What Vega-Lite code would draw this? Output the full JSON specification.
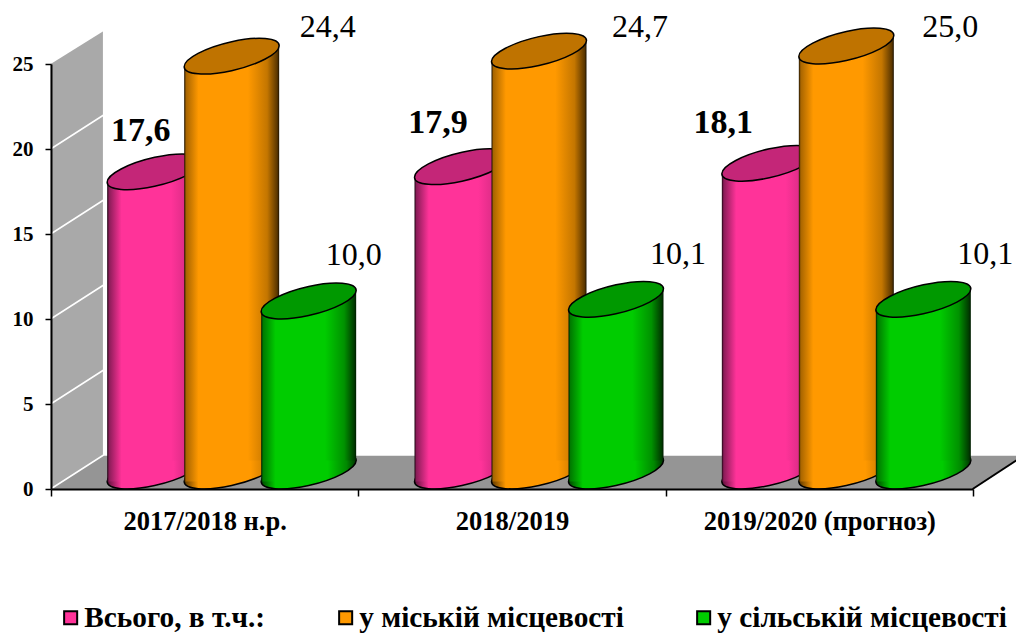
{"$schema":"https://vega.github.io/schema/vega-lite/v6.json","width":922,"height":425,"autosize":{"type":"none"},"padding":{"left":51,"top":64,"right":43,"bottom":145},"background":"white","config":{"view":{"stroke":null}},
"data":{"values":[
{"category":"2017/2018 н.р.","series":"Всього, в т.ч.:","value":17.6,"label":"17,6"},
{"category":"2017/2018 н.р.","series":"у міській місцевості","value":24.4,"label":"24,4"},
{"category":"2017/2018 н.р.","series":"у сільській місцевості","value":10.0,"label":"10,0"},
{"category":"2018/2019","series":"Всього, в т.ч.:","value":17.9,"label":"17,9"},
{"category":"2018/2019","series":"у міській місцевості","value":24.7,"label":"24,7"},
{"category":"2018/2019","series":"у сільській місцевості","value":10.1,"label":"10,1"},
{"category":"2019/2020 (прогноз)","series":"Всього, в т.ч.:","value":18.1,"label":"18,1"},
{"category":"2019/2020 (прогноз)","series":"у міській місцевості","value":25.0,"label":"25,0"},
{"category":"2019/2020 (прогноз)","series":"у сільській місцевості","value":10.1,"label":"10,1"}]},
"encoding":{
"x":{"field":"category","type":"nominal","sort":null,"scale":{"domain":["2017/2018 н.р.","2018/2019","2019/2020 (прогноз)"],"paddingInner":0,"paddingOuter":0},"axis":{"title":null,"labelAngle":0,"labelFont":"Liberation Serif","labelFontWeight":"bold","labelFontSize":26.5,"labelLimit":400,"labelColor":"black","labelPadding":12,"tickBand":"extent","tickColor":"black","tickWidth":1.5,"tickSize":7,"domainColor":"black","domainWidth":2,"grid":false,"zindex":1}},
"y":{"field":"value","type":"quantitative","scale":{"domain":[0,25],"nice":false},"axis":{"title":null,"values":[0,5,10,15,20,25],"labelFont":"Liberation Serif","labelFontWeight":"bold","labelFontSize":21,"labelColor":"black","labelPadding":12,"tickColor":"black","tickWidth":1.5,"tickSize":6,"domainColor":"black","domainWidth":2,"grid":false,"zindex":1}}},
"layer":[
{"transform":[{"filter":"datum.category==='2017/2018 н.р.' && datum.series==='Всього, в т.ч.:'"}],"mark":{"type":"point","filled":true,"opacity":1,"fill":"#959595","stroke":null,"size":1000000,"shape":"M-.308,0 L-.202,-.068 L1.64,-.068 L1.536,0 Z"},"encoding":{"y":{"datum":0}}},
{"transform":[{"filter":"datum.category==='2017/2018 н.р.' && datum.series==='Всього, в т.ч.:'"}],"mark":{"type":"point","filled":true,"opacity":1,"fill":"#a9a9a9","stroke":null,"size":1000000,"shape":"M-.308,0 L-.202,-.068 L-.202,-.916 L-.308,-.85 Z"},"encoding":{"y":{"datum":0}}},
{"transform":[{"filter":"datum.category==='2017/2018 н.р.' && datum.series==='Всього, в т.ч.:'"}],"mark":{"type":"point","filled":false,"opacity":1,"stroke":"white","strokeWidth":1.5,"size":1000000,"shape":"M-.308,0 L-.202,-.068 L-.202,-.916 M-.308,-.17 L-.202,-.238 M-.308,-.34 L-.202,-.408 M-.308,-.51 L-.202,-.578 M-.308,-.68 L-.202,-.748 M-.202,-.068 L1.64,-.068"},"encoding":{"y":{"datum":0}}},
{"transform":[{"filter":"datum.category==='2017/2018 н.р.' && datum.series==='Всього, в т.ч.:'"}],"mark":{"type":"point","filled":false,"opacity":1,"stroke":"black","strokeWidth":2,"size":1000000,"shape":"M1.536,0 L1.64,-.068"},"encoding":{"y":{"datum":0}}},

{"transform":[{"filter":"datum.series==='Всього, в т.ч.:'"}],"mark":{"type":"point","filled":true,"opacity":1,"size":9025,"xOffset":-50,"yOffset":-18,"stroke":"black","strokeWidth":1.5,"fill":{"gradient":"linear","x1":0,"x2":1,"y1":0,"y2":0,"stops":[{"offset":0,"color":"#5a1038"},{"offset":0.15,"color":"#ff3399"},{"offset":0.7,"color":"#ff3399"},{"offset":0.9,"color":"#c4267a"},{"offset":1,"color":"#4a0f2e"}]},"shape":"M1,-.221 C1,-.0525 .552,.183 0,.305 C-.552,.427 -1,.3895 -1,.221 C-1,.0525 -.552,-.183 0,-.305 C.552,-.427 1,-.3895 1,-.221 Z"},"encoding":{"y":{"datum":0}}},
{"transform":[{"filter":"datum.series==='Всього, в т.ч.:'"}],"mark":{"type":"bar","width":48,"xOffset":-73.5,"yOffset":-7.5,"y2Offset":-7.5,"fill":{"gradient":"linear","x1":0,"x2":1,"y1":0,"y2":0,"stops":[{"offset":0,"color":"#1a0510"},{"offset":0.04,"color":"#8a1c58"},{"offset":0.3,"color":"#ff3399"},{"offset":1,"color":"#ff3399"}]}},"encoding":{"y2":{"datum":0}}},
{"transform":[{"filter":"datum.series==='Всього, в т.ч.:'"}],"mark":{"type":"bar","width":48,"xOffset":-26.5,"yOffset":-28.5,"y2Offset":-28.5,"fill":{"gradient":"linear","x1":0,"x2":1,"y1":0,"y2":0,"stops":[{"offset":0,"color":"#ff3399"},{"offset":0.35,"color":"#ff3399"},{"offset":0.75,"color":"#d42a82"},{"offset":0.96,"color":"#5a1038"},{"offset":1,"color":"#1a0510"}]}},"encoding":{"y2":{"datum":0}}},
{"transform":[{"filter":"datum.series==='Всього, в т.ч.:'"}],"mark":{"type":"point","filled":true,"opacity":1,"size":9025,"xOffset":-50,"yOffset":-18,"stroke":"black","strokeWidth":1.5,"fill":"#c42678","shape":"M1,-.221 C1,-.0525 .552,.183 0,.305 C-.552,.427 -1,.3895 -1,.221 C-1,.0525 -.552,-.183 0,-.305 C.552,-.427 1,-.3895 1,-.221 Z"}},

{"transform":[{"filter":"datum.series==='у міській місцевості'"}],"mark":{"type":"point","filled":true,"opacity":1,"size":9025,"xOffset":27,"yOffset":-18,"stroke":"black","strokeWidth":1.5,"fill":{"gradient":"linear","x1":0,"x2":1,"y1":0,"y2":0,"stops":[{"offset":0,"color":"#5a3600"},{"offset":0.15,"color":"#ff9900"},{"offset":0.7,"color":"#ff9900"},{"offset":0.9,"color":"#c47600"},{"offset":1,"color":"#4a2c00"}]},"shape":"M1,-.221 C1,-.0525 .552,.183 0,.305 C-.552,.427 -1,.3895 -1,.221 C-1,.0525 -.552,-.183 0,-.305 C.552,-.427 1,-.3895 1,-.221 Z"},"encoding":{"y":{"datum":0}}},
{"transform":[{"filter":"datum.series==='у міській місцевості'"}],"mark":{"type":"bar","width":48,"xOffset":3.5,"yOffset":-7.5,"y2Offset":-7.5,"fill":{"gradient":"linear","x1":0,"x2":1,"y1":0,"y2":0,"stops":[{"offset":0,"color":"#1a1000"},{"offset":0.04,"color":"#a86500"},{"offset":0.3,"color":"#ff9900"},{"offset":1,"color":"#ff9900"}]}},"encoding":{"y2":{"datum":0}}},
{"transform":[{"filter":"datum.series==='у міській місцевості'"}],"mark":{"type":"bar","width":48,"xOffset":50.5,"yOffset":-28.5,"y2Offset":-28.5,"fill":{"gradient":"linear","x1":0,"x2":1,"y1":0,"y2":0,"stops":[{"offset":0,"color":"#ff9900"},{"offset":0.35,"color":"#ff9900"},{"offset":0.75,"color":"#c47600"},{"offset":0.96,"color":"#5a3600"},{"offset":1,"color":"#1a1000"}]}},"encoding":{"y2":{"datum":0}}},
{"transform":[{"filter":"datum.series==='у міській місцевості'"}],"mark":{"type":"point","filled":true,"opacity":1,"size":9025,"xOffset":27,"yOffset":-18,"stroke":"black","strokeWidth":1.5,"fill":"#bf7300","shape":"M1,-.221 C1,-.0525 .552,.183 0,.305 C-.552,.427 -1,.3895 -1,.221 C-1,.0525 -.552,-.183 0,-.305 C.552,-.427 1,-.3895 1,-.221 Z"}},

{"transform":[{"filter":"datum.series==='у сільській місцевості'"}],"mark":{"type":"point","filled":true,"opacity":1,"size":9025,"xOffset":104,"yOffset":-18,"stroke":"black","strokeWidth":1.5,"fill":{"gradient":"linear","x1":0,"x2":1,"y1":0,"y2":0,"stops":[{"offset":0,"color":"#004400"},{"offset":0.15,"color":"#00cc00"},{"offset":0.7,"color":"#00cc00"},{"offset":0.9,"color":"#008800"},{"offset":1,"color":"#003300"}]},"shape":"M1,-.221 C1,-.0525 .552,.183 0,.305 C-.552,.427 -1,.3895 -1,.221 C-1,.0525 -.552,-.183 0,-.305 C.552,-.427 1,-.3895 1,-.221 Z"},"encoding":{"y":{"datum":0}}},
{"transform":[{"filter":"datum.series==='у сільській місцевості'"}],"mark":{"type":"bar","width":48,"xOffset":80.5,"yOffset":-7.5,"y2Offset":-7.5,"fill":{"gradient":"linear","x1":0,"x2":1,"y1":0,"y2":0,"stops":[{"offset":0,"color":"#001a00"},{"offset":0.04,"color":"#007a00"},{"offset":0.3,"color":"#00cc00"},{"offset":1,"color":"#00cc00"}]}},"encoding":{"y2":{"datum":0}}},
{"transform":[{"filter":"datum.series==='у сільській місцевості'"}],"mark":{"type":"bar","width":48,"xOffset":127.5,"yOffset":-28.5,"y2Offset":-28.5,"fill":{"gradient":"linear","x1":0,"x2":1,"y1":0,"y2":0,"stops":[{"offset":0,"color":"#00cc00"},{"offset":0.35,"color":"#00cc00"},{"offset":0.75,"color":"#009200"},{"offset":0.96,"color":"#003a00"},{"offset":1,"color":"#001a00"}]}},"encoding":{"y2":{"datum":0}}},
{"transform":[{"filter":"datum.series==='у сільській місцевості'"}],"mark":{"type":"point","filled":true,"opacity":1,"size":9025,"xOffset":104,"yOffset":-18,"stroke":"black","strokeWidth":1.5,"fill":"#009900","shape":"M1,-.221 C1,-.0525 .552,.183 0,.305 C-.552,.427 -1,.3895 -1,.221 C-1,.0525 -.552,-.183 0,-.305 C.552,-.427 1,-.3895 1,-.221 Z"}},

{"transform":[{"filter":"datum.label==='17,6'"}],"mark":{"type":"text","font":"Liberation Serif","fontWeight":"bold","fontSize":34,"fill":"black","dx":-64,"dy":-59},"encoding":{"text":{"field":"label"}}},
{"transform":[{"filter":"datum.label==='17,9'"}],"mark":{"type":"text","font":"Liberation Serif","fontWeight":"bold","fontSize":34,"fill":"black","dx":-74,"dy":-62},"encoding":{"text":{"field":"label"}}},
{"transform":[{"filter":"datum.label==='18,1'"}],"mark":{"type":"text","font":"Liberation Serif","fontWeight":"bold","fontSize":34,"fill":"black","dx":-96,"dy":-58},"encoding":{"text":{"field":"label"}}},
{"transform":[{"filter":"datum.label==='24,4'"}],"mark":{"type":"text","font":"Liberation Serif","fontSize":32,"fill":"black","dx":123,"dy":-47},"encoding":{"text":{"field":"label"}}},
{"transform":[{"filter":"datum.label==='24,7'"}],"mark":{"type":"text","font":"Liberation Serif","fontSize":32,"fill":"black","dx":128,"dy":-42},"encoding":{"text":{"field":"label"}}},
{"transform":[{"filter":"datum.label==='25,0'"}],"mark":{"type":"text","font":"Liberation Serif","fontSize":32,"fill":"black","dx":131,"dy":-37},"encoding":{"text":{"field":"label"}}},
{"transform":[{"filter":"datum.label==='10,0'"}],"mark":{"type":"text","font":"Liberation Serif","fontSize":32,"fill":"black","dx":149,"dy":-64},"encoding":{"text":{"field":"label"}}},
{"transform":[{"filter":"datum.label==='10,1' && datum.category==='2018/2019'"}],"mark":{"type":"text","font":"Liberation Serif","fontSize":32,"fill":"black","dx":166,"dy":-63},"encoding":{"text":{"field":"label"}}},
{"transform":[{"filter":"datum.label==='10,1' && datum.category==='2019/2020 (прогноз)'"}],"mark":{"type":"text","font":"Liberation Serif","fontSize":32,"fill":"black","dx":166,"dy":-63},"encoding":{"text":{"field":"label"}}},

{"mark":{"type":"point","filled":true,"opacity":1,"size":0},"encoding":{"fill":{"field":"series","type":"nominal","sort":null,"scale":{"domain":["Всього, в т.ч.:","у міській місцевості","у сільській місцевості"],"range":["#ff3399","#ff9900","#00cc00"]},"legend":{"title":null,"orient":"none","legendX":5,"legendY":539,"direction":"horizontal","columns":3,"gridAlign":"none","columnPadding":65,"padding":0,"symbolType":"square","symbolSize":170,"symbolOpacity":1,"symbolStrokeColor":"black","symbolStrokeWidth":2,"labelFont":"Liberation Serif","labelFontWeight":"bold","labelFontSize":29.3,"labelColor":"black","labelOffset":-1,"labelLimit":400}}}}
]}
